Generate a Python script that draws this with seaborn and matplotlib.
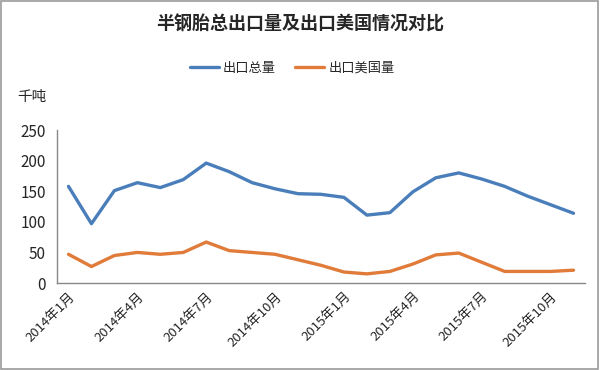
import pandas as pd
import seaborn as sns
import matplotlib.pyplot as plt
from matplotlib.patches import Rectangle

# monthly data, 2014-01 .. 2015-11
months = [f"{y}年{m}月" for y in (2014, 2015) for m in range(1, 13)][:23]
total = [158, 97, 151, 164, 156, 169, 196, 182, 164, 154, 146, 145,
         140, 111, 115, 149, 172, 180, 170, 158, 142, 128, 114]
usa = [47, 27, 45, 50, 47, 50, 67, 53, 50, 47, 38, 29,
       18, 15, 19, 31, 46, 49, 34, 19, 19, 19, 21]
tick_months = months[::3]

df = pd.DataFrame({
    'idx': list(range(len(months))) * 2,
    'value': total + usa,
    'series': ['出口总量'] * len(total) + ['出口美国量'] * len(usa),
})

sns.set_style("white")
plt.rcParams['font.family'] = ['Noto Sans CJK SC', 'DejaVu Sans']

fig = plt.figure(figsize=(6, 3.7), dpi=100)
ax = fig.add_axes([0.095, 0.235, 0.88, 0.4135])

sns.lineplot(data=df, x='idx', y='value', hue='series',
             palette=['#4A7EBB', '#E07B39'], linewidth=2.4, ax=ax)

ax.set_xlim(-0.5, len(months) - 0.5)
ax.set_ylim(0, 250)
ax.set_yticks(range(0, 251, 50))
ax.set_xticks(range(0, len(months), 3))
ax.set_xticklabels(tick_months, rotation=45, ha='right', rotation_mode='anchor', fontsize=9.5)
ax.tick_params(axis='y', labelsize=11, length=0, pad=8)
ax.tick_params(axis='x', length=0, pad=5)
ax.set_xlabel('')
ax.set_ylabel('')
for s in ['top', 'right']:
    ax.spines[s].set_visible(False)
for s in ['left', 'bottom']:
    ax.spines[s].set_color('#888888')
    ax.spines[s].set_linewidth(1)

handles, labels = ax.get_legend_handles_labels()
ax.legend_.remove()
fig.legend(handles, labels, loc='center', bbox_to_anchor=(0.487, 0.816), ncol=2,
           frameon=False, fontsize=9.5, handlelength=2.2, columnspacing=1.5, handletextpad=0.3)

fig.text(0.5, 0.935, '半钢胎总出口量及出口美国情况对比', ha='center', va='center',
         fontsize=13, fontweight='bold')
fig.text(0.028, 0.737, '千吨', ha='left', va='center', fontsize=10.5)

fig.patches.append(Rectangle((0.002, 0.003), 0.995, 0.994, transform=fig.transFigure,
                             fill=False, edgecolor='#999999', linewidth=1.2))

fig.savefig('out.png', dpi=100)
